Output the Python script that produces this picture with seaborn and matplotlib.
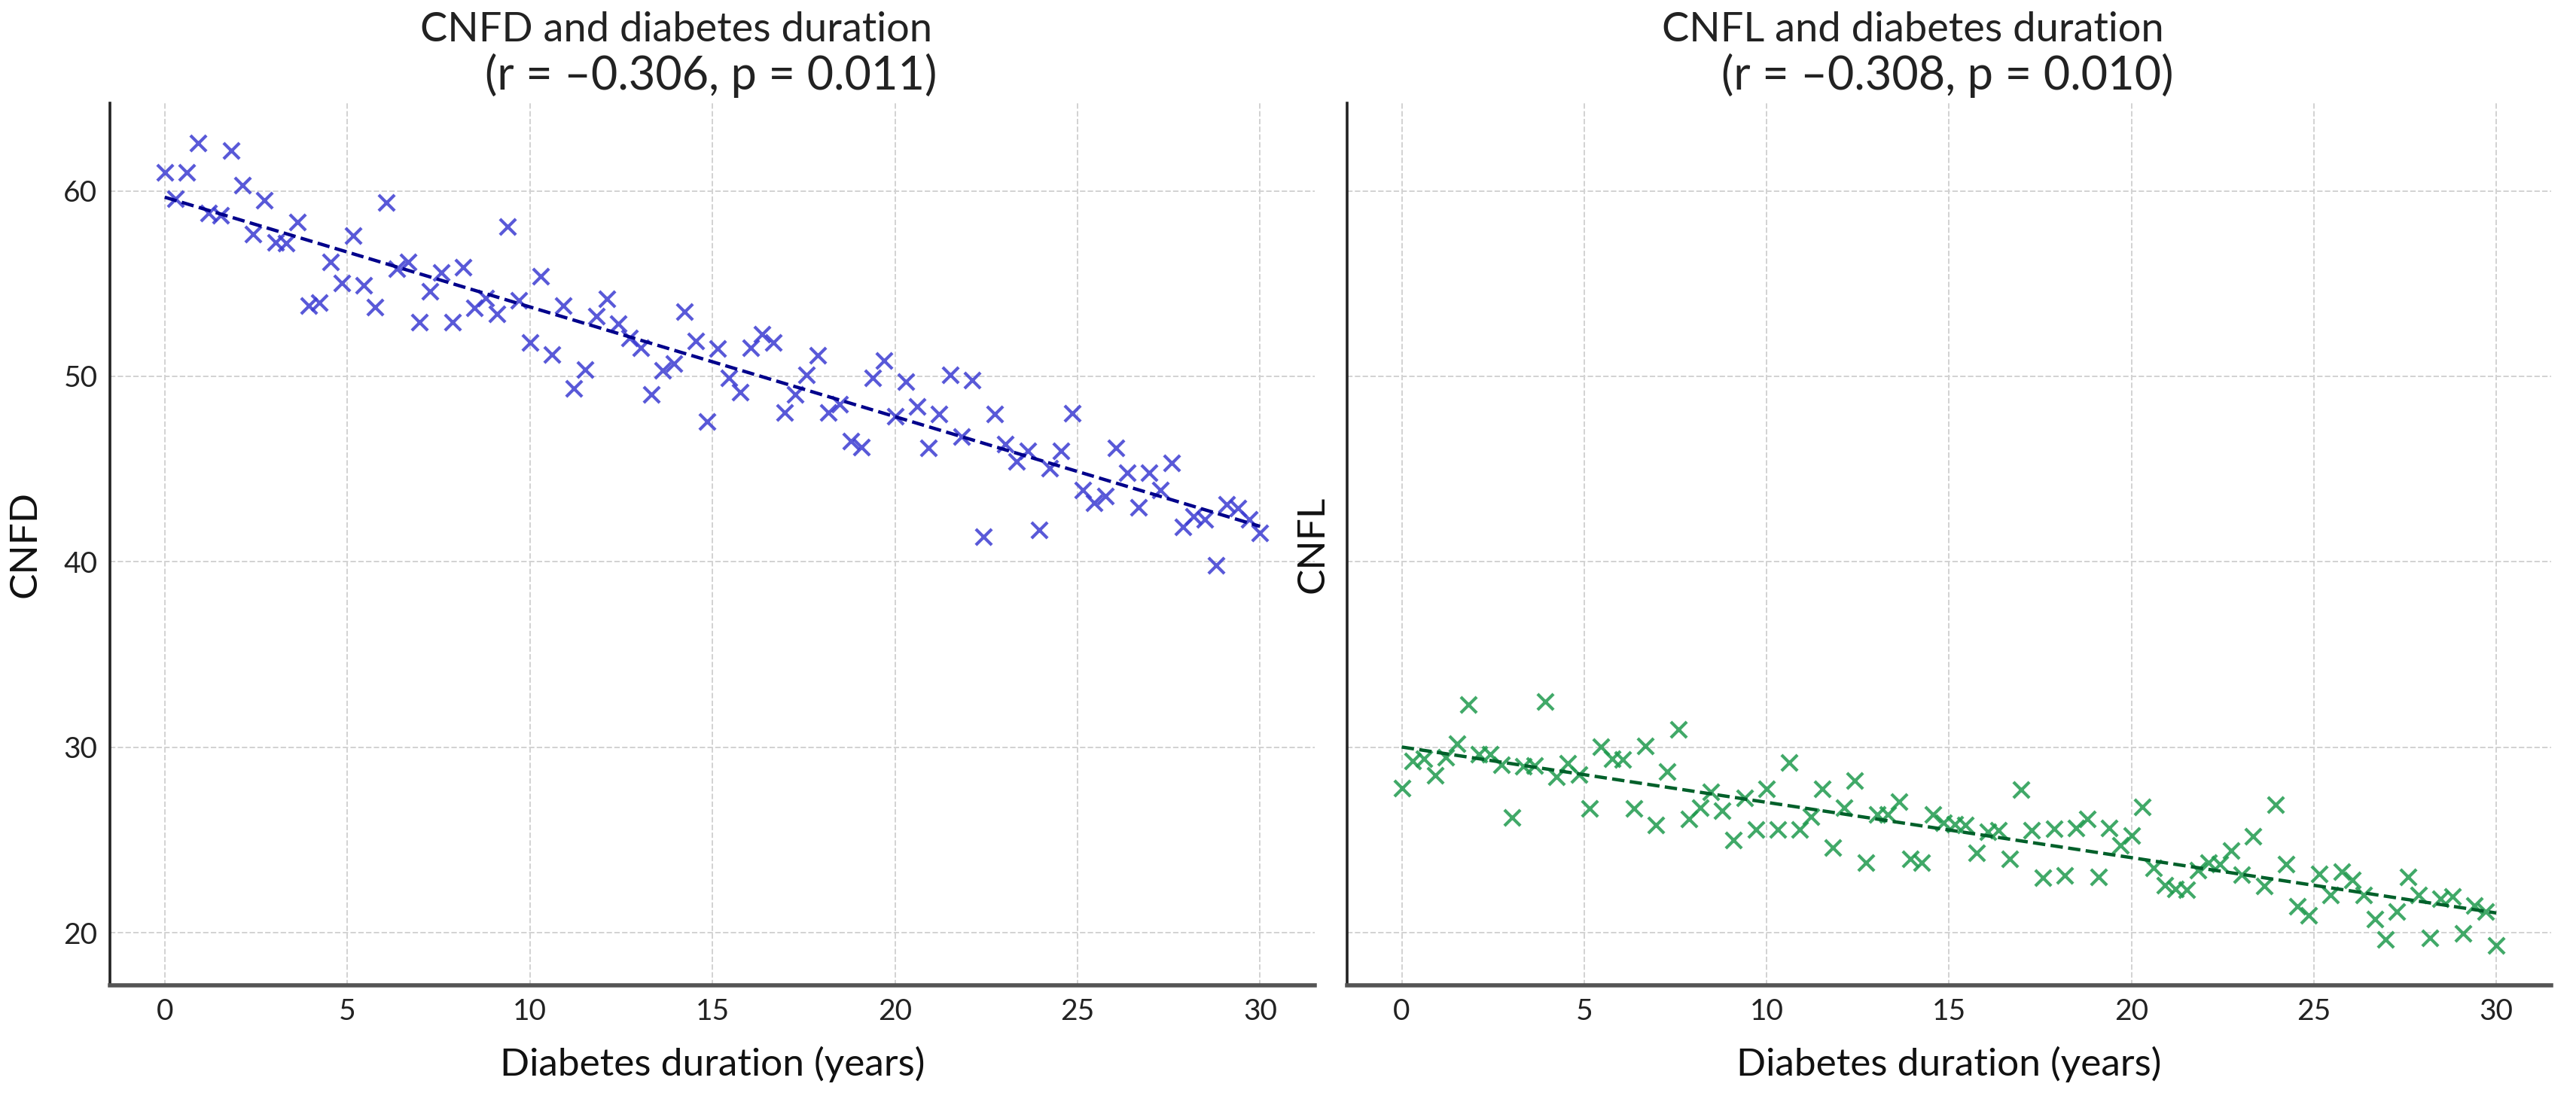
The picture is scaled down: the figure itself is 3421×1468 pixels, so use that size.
import pandas as pd
import seaborn as sns
import matplotlib.pyplot as plt

# diabetes duration (years), same grid of durations for both panels
duration = [
    0.0, 0.3, 0.61, 0.91, 1.21, 1.52, 1.82, 2.12, 2.42, 2.73,
    3.03, 3.33, 3.64, 3.94, 4.24, 4.55, 4.85, 5.15, 5.45, 5.76,
    6.06, 6.36, 6.67, 6.97, 7.27, 7.58, 7.88, 8.18, 8.48, 8.79,
    9.09, 9.39, 9.7, 10.0, 10.3, 10.61, 10.91, 11.21, 11.52, 11.82,
    12.12, 12.42, 12.73, 13.03, 13.33, 13.64, 13.94, 14.24, 14.55, 14.85,
    15.15, 15.45, 15.76, 16.06, 16.36, 16.67, 16.97, 17.27, 17.58, 17.88,
    18.18, 18.48, 18.79, 19.09, 19.39, 19.7, 20.0, 20.3, 20.61, 20.91,
    21.21, 21.52, 21.82, 22.12, 22.42, 22.73, 23.03, 23.33, 23.64, 23.94,
    24.24, 24.55, 24.85, 25.15, 25.45, 25.76, 26.06, 26.36, 26.67, 26.97,
    27.27, 27.58, 27.88, 28.18, 28.48, 28.79, 29.09, 29.39, 29.7, 30.0,
]

cnfd = [
    61.0, 59.56, 61.0, 62.57, 58.81, 58.68, 62.16, 60.29, 57.65, 59.5,
    57.24, 57.17, 58.33, 53.82, 53.96, 56.18, 55.05, 57.58, 54.92, 53.72,
    59.36, 55.8, 56.15, 52.93, 54.58, 55.6, 52.93, 55.87, 53.69, 54.23,
    53.35, 58.06, 54.1, 51.81, 55.4, 51.18, 53.83, 49.35, 50.38, 53.25,
    54.17, 52.82, 52.08, 51.54, 49.03, 50.34, 50.7, 53.49, 51.91, 47.58,
    51.5, 49.93, 49.13, 51.55, 52.26, 51.81, 48.05, 49.03, 50.07, 51.14,
    48.05, 48.5, 46.5, 46.17, 49.93, 50.87, 47.85, 49.73, 48.37, 46.16,
    47.99, 50.1, 46.76, 49.81, 41.34, 47.96, 46.33, 45.42, 46.0, 41.74,
    45.04, 46.0, 48.03, 43.88, 43.17, 43.55, 46.16, 44.82, 42.94, 44.82,
    43.88, 45.35, 41.87, 42.47, 42.27, 39.82, 43.12, 42.9, 42.27, 41.54,
]

cnfl = [
    27.82, 29.27, 29.37, 28.49, 29.46, 30.18, 32.29, 29.64, 29.64, 29.06,
    26.2, 28.96, 29.0, 32.47, 28.42, 29.16, 28.52, 26.71, 30.04, 29.37,
    29.33, 26.71, 30.08, 25.82, 28.69, 30.98, 26.13, 26.74, 27.61, 26.6,
    24.99, 27.28, 25.55, 27.75, 25.55, 29.19, 25.55, 26.27, 27.75, 24.61,
    26.74, 28.22, 23.77, 26.4, 26.4, 27.08, 23.98, 23.77, 26.4, 25.93,
    25.86, 25.82, 24.31, 25.46, 25.53, 23.98, 27.71, 25.53, 22.96, 25.59,
    23.1, 25.66, 26.13, 23.03, 25.66, 24.72, 25.26, 26.77, 23.5, 22.56,
    22.36, 22.32, 23.37, 23.8, 23.7, 24.45, 23.13, 25.19, 22.52, 26.9,
    23.71, 21.42, 20.94, 23.17, 22.05, 23.3, 22.83, 22.02, 20.74, 19.66,
    21.15, 23.03, 22.02, 19.73, 21.82, 21.95, 19.97, 21.48, 21.15, 19.33,
]

panels = [
    ("CNFD", "CNFD and diabetes duration", "(r = \u20130.306, p = 0.011)", "#3c3cd2", "#00008b"),
    ("CNFL", "CNFL and diabetes duration", "(r = \u20130.308, p = 0.010)", "#1f9a4e", "#00602a"),
]

df = pd.DataFrame({"duration": duration, "CNFD": cnfd, "CNFL": cnfl})

sns.set_theme(style="whitegrid")
plt.rcParams["font.family"] = ["Lato", "DejaVu Sans"]

fig = plt.figure(figsize=(17.105, 7.34), dpi=200)
ax1 = fig.add_axes([0.0427, 0.1083, 0.4677, 0.7984])
ax2 = fig.add_axes([0.5229, 0.1083, 0.4674, 0.7984], sharey=ax1)

for ax, (col, line1, line2, mcolor, lcolor) in zip([ax1, ax2], panels):
    sns.regplot(
        data=df, x="duration", y=col, ax=ax, ci=None, marker="x",
        scatter_kws={"color": mcolor, "alpha": 0.85, "s": 58, "linewidths": 1.5},
        line_kws={"color": lcolor, "linestyle": "--", "linewidth": 1.6},
    )
    ax.set_facecolor("white")
    ax.grid(True, color="#d2d2d2", linestyle="--", linewidth=0.7)
    for side in ["top", "right"]:
        ax.spines[side].set_visible(False)
    ax.spines["left"].set_color("#222222")
    ax.spines["left"].set_linewidth(1.3)
    ax.spines["bottom"].set_color("#555555")
    ax.spines["bottom"].set_linewidth(2.0)
    ax.tick_params(axis="both", direction="in", length=4, width=0.9,
                   color="#222222", labelsize=14, pad=6, labelcolor="#222222")
    ax.set_xticks([0, 5, 10, 15, 20, 25, 30])
    ax.set_xlabel("Diabetes duration (years)", fontsize=18.5, labelpad=10, color="#111111")
    ax.set_ylabel(col, fontsize=18.5, color="#111111")
    # two-line title, second line shifted right as in the original
    ax.text(0.47, 1.083, line1, transform=ax.transAxes, ha="center", va="center",
            fontsize=19.5, color="#222222")
    ax.text(0.499, 1.031, line2, transform=ax.transAxes, ha="center", va="center",
            fontsize=22, color="#222222")

ax1.set_yticks([20, 30, 40, 50, 60])
ax1.yaxis.labelpad = 10
ax2.tick_params(axis="y", labelleft=False)
ax2.yaxis.labelpad = 8

fig.savefig("out.png", dpi=200, facecolor="white")
